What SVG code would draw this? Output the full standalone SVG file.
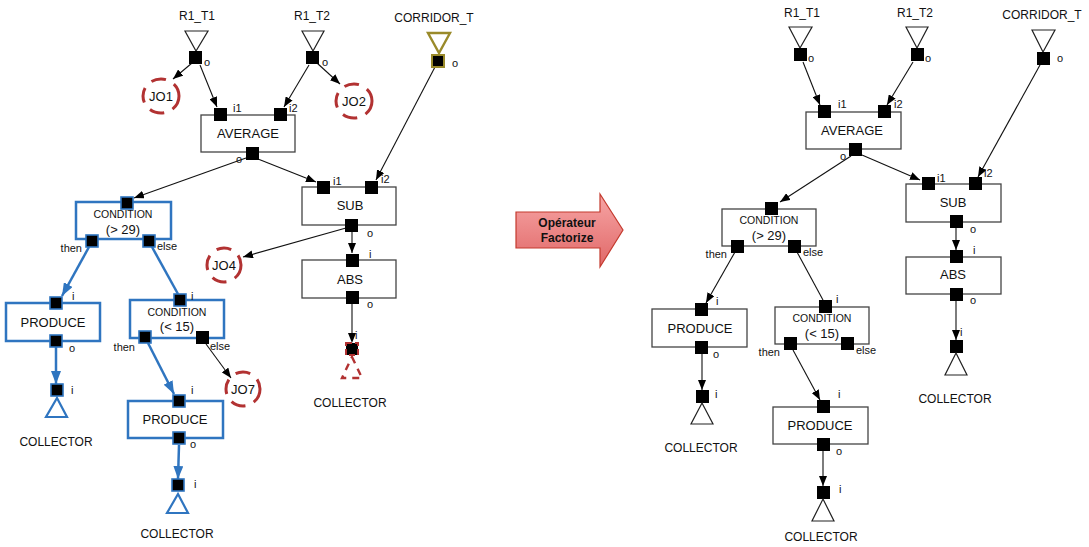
<svg xmlns="http://www.w3.org/2000/svg" width="1089" height="547" viewBox="0 0 1089 547">
<defs>
<style>
text{font-family:"Liberation Sans",Arial,sans-serif;fill:#111;}
.lbl{font-size:12px;text-anchor:middle;}
.box{fill:#fff;stroke:#444;stroke-width:1.3;}
.bbox{fill:#fff;stroke:#2f75c0;stroke-width:2.5;}
.port{fill:#000;}
.bport{fill:#000;stroke:#2f75c0;stroke-width:1.6;}
.pl{font-size:11px;}
.tri{fill:#fff;stroke:#222;stroke-width:1.2;}
.btri{fill:#fff;stroke:#2f75c0;stroke-width:2.2;}
.name{font-size:13px;text-anchor:middle;}
.cond{font-size:10.5px;text-anchor:middle;}
.jo{fill:none;stroke:#b23232;stroke-width:3;stroke-dasharray:15 9;}
.jot{font-size:13px;text-anchor:middle;}
.c{stroke:#111;stroke-width:1.1;fill:none;marker-end:url(#ah);}
.cb{stroke:#2f75c0;stroke-width:2.5;fill:none;marker-end:url(#ahb);}
.cbn{stroke:#2f75c0;stroke-width:2.5;fill:none;}
.cn{stroke:#111;stroke-width:1.1;fill:none;}
</style>
<marker id="ah" markerWidth="10" markerHeight="8" refX="10" refY="4" orient="auto" markerUnits="userSpaceOnUse"><path d="M0,0 L10,4 L0,8 z" fill="#000"/></marker>
<marker id="ahb" markerWidth="13" markerHeight="10" refX="13" refY="5" orient="auto" markerUnits="userSpaceOnUse"><path d="M0,0 L13,5 L0,10 z" fill="#2f75c0"/></marker>
<linearGradient id="rg" x1="0" y1="0" x2="0" y2="1"><stop offset="0" stop-color="#f7a5a5"/><stop offset="1" stop-color="#e06868"/></linearGradient>
</defs>

<!-- ================= LEFT ================= -->
<g id="connectors-left">
<line class="c" x1="192" y1="63" x2="173" y2="79"/>
<line class="c" x1="200" y1="65" x2="217" y2="107"/>
<line class="c" x1="309" y1="65" x2="284" y2="107"/>
<line class="c" x1="317" y1="63" x2="340" y2="84"/>
<line class="c" x1="435" y1="67" x2="376" y2="180"/>
<line class="c" x1="258" y1="159" x2="316" y2="182"/>
<line class="c" x1="246" y1="158" x2="134" y2="198"/>
<line class="c" x1="346" y1="228" x2="243" y2="257"/>
<line class="c" x1="352" y1="232" x2="352" y2="253"/>
<line class="cn" x1="352" y1="304" x2="352" y2="335"/>
<path d="M348,333 L352,343 L356,333 z" fill="#000"/>
<line class="cb" x1="89" y1="247" x2="62" y2="296"/>
<line class="cbn" x1="152" y1="247" x2="178" y2="294"/>
<line class="cb" x1="56" y1="347" x2="56" y2="384"/>
<line class="cb" x1="148" y1="343" x2="174" y2="394"/>
<line class="c" x1="206" y1="344" x2="231" y2="378"/>
<line class="cb" x1="179" y1="445" x2="178" y2="479"/>
</g>

<g id="r1t1-left">
<text class="lbl" x="197" y="20">R1_T1</text>
<polygon class="tri" points="185,31 208,31 196,51"/>
<rect class="port" x="189" y="51" width="13" height="13"/>
<text class="pl" x="204" y="66">o</text>
</g>
<g id="r1t2-left">
<text class="lbl" x="312" y="20">R1_T2</text>
<polygon class="tri" points="302,31 324,31 313,51"/>
<rect class="port" x="306" y="51" width="13" height="13"/>
<text class="pl" x="322" y="66">o</text>
</g>
<g id="corridor-left">
<text class="lbl" x="434" y="22">CORRIDOR_T</text>
<polygon points="428,33 450,33 439,53" fill="#fff" stroke="#9a8a2a" stroke-width="2.4"/>
<rect x="432" y="55" width="12" height="12" fill="#000" stroke="#9a8a2a" stroke-width="2"/>
<text class="pl" x="452" y="67">o</text>
</g>
<g id="jo1"><ellipse class="jo" cx="161" cy="96" rx="18" ry="17"/><text class="jot" x="161" y="101">JO1</text></g>
<g id="jo2"><ellipse class="jo" cx="354" cy="101" rx="18" ry="17"/><text class="jot" x="354" y="106">JO2</text></g>
<g id="jo4"><ellipse class="jo" cx="224" cy="265" rx="17" ry="17"/><text class="jot" x="224" y="270">JO4</text></g>
<g id="jo7"><ellipse class="jo" cx="243" cy="389" rx="17" ry="17"/><text class="jot" x="243" y="394">JO7</text></g>

<g id="average-left">
<rect class="box" x="201" y="115" width="94" height="37"/>
<text class="name" x="248" y="138">AVERAGE</text>
<rect class="port" x="214" y="108" width="13" height="13"/>
<rect class="port" x="274" y="108" width="13" height="13"/>
<rect class="port" x="246" y="147" width="13" height="13"/>
<text class="pl" x="233" y="112">i1</text>
<text class="pl" x="289" y="112">i2</text>
<text class="pl" x="236" y="163">o</text>
</g>
<g id="sub-left">
<rect class="box" x="302" y="187" width="94" height="38"/>
<text class="name" x="350" y="210">SUB</text>
<rect class="port" x="317" y="181" width="13" height="13"/>
<rect class="port" x="365" y="181" width="13" height="13"/>
<rect class="port" x="345" y="219" width="13" height="13"/>
<text class="pl" x="333" y="185">i1</text>
<text class="pl" x="381" y="183">i2</text>
<text class="pl" x="367" y="237">o</text>
</g>
<g id="abs-left">
<rect class="box" x="302" y="260" width="94" height="38"/>
<text class="name" x="350" y="284">ABS</text>
<rect class="port" x="346" y="254" width="13" height="13"/>
<rect class="port" x="346" y="291" width="13" height="13"/>
<text class="pl" x="369" y="258">i</text>
<text class="pl" x="367" y="308">o</text>
</g>
<g id="collector-abs-left">
<rect x="346" y="343" width="12" height="12" fill="#000" stroke="#b23232" stroke-width="2" stroke-dasharray="6 3"/>
<polygon points="352,357 362,378 342,378" fill="none" stroke="#b23232" stroke-width="2.4" stroke-dasharray="7 6"/>
<text class="pl" x="355" y="339">i</text>
<text class="lbl" x="350" y="407">COLLECTOR</text>
</g>
<g id="cond1-left">
<rect class="bbox" x="76" y="202" width="95" height="37"/>
<text class="cond" x="123" y="218">CONDITION</text>
<text class="name" x="123" y="234">(&gt; 29)</text>
<rect class="bport" x="121" y="197" width="12" height="12"/>
<rect class="bport" x="86" y="235" width="12" height="12"/>
<rect class="bport" x="143" y="235" width="12" height="12"/>
<text class="pl" x="82" y="252" text-anchor="end">then</text>
<text class="pl" x="157" y="250">else</text>
</g>
<g id="produce1-left">
<rect class="bbox" x="6" y="303" width="94" height="38"/>
<text class="name" x="53" y="327">PRODUCE</text>
<rect class="bport" x="50" y="297" width="12" height="12"/>
<rect class="bport" x="50" y="335" width="12" height="12"/>
<text class="pl" x="72" y="300">i</text>
<text class="pl" x="69" y="352">o</text>
</g>
<g id="collector1-left">
<rect class="bport" x="51" y="384" width="12" height="12"/>
<polygon class="btri" points="57,398 67,417 46,417"/>
<text class="pl" x="71" y="394">i</text>
<text class="lbl" x="56" y="446">COLLECTOR</text>
</g>
<g id="cond2-left">
<rect class="bbox" x="130" y="300" width="94" height="38"/>
<text class="cond" x="177" y="316">CONDITION</text>
<text class="name" x="177" y="331">(&lt; 15)</text>
<rect class="bport" x="174" y="294" width="12" height="12"/>
<rect class="bport" x="139" y="331" width="12" height="12"/>
<rect class="port" x="196" y="331" width="13" height="13"/>
<text class="pl" x="135" y="351" text-anchor="end">then</text>
<text class="pl" x="210" y="350">else</text>
<text class="pl" x="191" y="300">i</text>
</g>
<g id="produce2-left">
<rect class="bbox" x="128" y="401" width="95" height="37"/>
<text class="name" x="175" y="424">PRODUCE</text>
<rect class="bport" x="173" y="395" width="12" height="12"/>
<rect class="bport" x="173" y="432" width="12" height="12"/>
<text class="pl" x="191" y="394">i</text>
<text class="pl" x="190" y="448">o</text>
</g>
<g id="collector2-left">
<rect class="bport" x="172" y="479" width="12" height="12"/>
<polygon class="btri" points="178,494 188,513 167,513"/>
<text class="pl" x="194" y="488">i</text>
<text class="lbl" x="177" y="538">COLLECTOR</text>
</g>

<!-- ================= ARROW ================= -->
<g id="operator-arrow">
<path d="M516,212 L600,212 L600,194 L623,230 L600,267 L600,248 L516,248 Z" fill="url(#rg)" stroke="#c43a2e" stroke-width="1.2"/>
<text x="567" y="227" font-size="12" font-weight="bold" text-anchor="middle">Opérateur</text>
<text x="567" y="242" font-size="12" font-weight="bold" text-anchor="middle">Factorize</text>
</g>

<!-- ================= RIGHT ================= -->
<g id="connectors-right">
<line class="c" x1="803" y1="62" x2="820" y2="105"/>
<line class="c" x1="913" y1="62" x2="887" y2="105"/>
<line class="c" x1="1040" y1="65" x2="978" y2="177"/>
<line class="c" x1="862" y1="155" x2="920" y2="180"/>
<line class="c" x1="851" y1="156" x2="780" y2="202"/>
<line class="c" x1="735" y1="252" x2="706" y2="303"/>
<line class="cn" x1="797" y1="252" x2="823" y2="300"/>
<line class="c" x1="702" y1="353" x2="702" y2="390"/>
<line class="c" x1="793" y1="350" x2="820" y2="400"/>
<line class="c" x1="823" y1="451" x2="823" y2="486"/>
<line class="c" x1="956" y1="228" x2="956" y2="250"/>
<line class="c" x1="956" y1="301" x2="956" y2="340"/>
</g>

<g id="r1t1-right">
<text class="lbl" x="802" y="17">R1_T1</text>
<polygon class="tri" points="789,27 812,27 800,48"/>
<rect class="port" x="794" y="48" width="13" height="13"/>
<text class="pl" x="808" y="62">o</text>
</g>
<g id="r1t2-right">
<text class="lbl" x="915" y="17">R1_T2</text>
<polygon class="tri" points="906,27 928,27 917,48"/>
<rect class="port" x="911" y="48" width="13" height="13"/>
<text class="pl" x="925" y="62">o</text>
</g>
<g id="corridor-right">
<text class="lbl" x="1042" y="19">CORRIDOR_T</text>
<polygon class="tri" points="1032,30 1055,30 1043,52"/>
<rect class="port" x="1037" y="52" width="13" height="13"/>
<text class="pl" x="1057" y="62">o</text>
</g>
<g id="average-right">
<rect class="box" x="806" y="112" width="95" height="37"/>
<text class="name" x="852" y="135">AVERAGE</text>
<rect class="port" x="818" y="105" width="13" height="13"/>
<rect class="port" x="878" y="105" width="13" height="13"/>
<rect class="port" x="849" y="143" width="13" height="13"/>
<text class="pl" x="838" y="108">i1</text>
<text class="pl" x="894" y="108">i2</text>
<text class="pl" x="840" y="160">o</text>
</g>
<g id="sub-right">
<rect class="box" x="906" y="184" width="95" height="38"/>
<text class="name" x="953" y="207">SUB</text>
<rect class="port" x="922" y="177" width="13" height="13"/>
<rect class="port" x="969" y="177" width="13" height="13"/>
<rect class="port" x="950" y="215" width="13" height="13"/>
<text class="pl" x="937" y="182">i1</text>
<text class="pl" x="984" y="177">i2</text>
<text class="pl" x="970" y="233">o</text>
</g>
<g id="abs-right">
<rect class="box" x="906" y="257" width="95" height="37"/>
<text class="name" x="953" y="279">ABS</text>
<rect class="port" x="950" y="250" width="13" height="13"/>
<rect class="port" x="950" y="288" width="13" height="13"/>
<text class="pl" x="973" y="254">i</text>
<text class="pl" x="970" y="304">o</text>
</g>
<g id="collector-abs-right">
<rect class="port" x="950" y="340" width="13" height="13"/>
<polygon class="tri" points="956,353 967,375 945,375"/>
<text class="pl" x="960" y="336">i</text>
<text class="lbl" x="955" y="403">COLLECTOR</text>
</g>
<g id="cond1-right">
<rect class="box" x="722" y="209" width="94" height="37"/>
<text class="cond" x="769" y="224">CONDITION</text>
<text class="name" x="769" y="240">(&gt; 29)</text>
<rect class="port" x="765" y="202" width="13" height="13"/>
<rect class="port" x="731" y="240" width="13" height="13"/>
<rect class="port" x="788" y="240" width="13" height="13"/>
<text class="pl" x="727" y="258" text-anchor="end">then</text>
<text class="pl" x="803" y="256">else</text>
</g>
<g id="produce1-right">
<rect class="box" x="652" y="309" width="95" height="38"/>
<text class="name" x="700" y="333">PRODUCE</text>
<rect class="port" x="695" y="303" width="13" height="13"/>
<rect class="port" x="695" y="341" width="13" height="13"/>
<text class="pl" x="716" y="305">i</text>
<text class="pl" x="713" y="358">o</text>
</g>
<g id="collector1-right">
<rect class="port" x="696" y="390" width="13" height="13"/>
<polygon class="tri" points="702,403 713,424 691,424"/>
<text class="pl" x="715" y="398">i</text>
<text class="lbl" x="701" y="452">COLLECTOR</text>
</g>
<g id="cond2-right">
<rect class="box" x="775" y="307" width="94" height="37"/>
<text class="cond" x="822" y="322">CONDITION</text>
<text class="name" x="822" y="338">(&lt; 15)</text>
<rect class="port" x="819" y="300" width="13" height="13"/>
<rect class="port" x="784" y="337" width="13" height="13"/>
<rect class="port" x="841" y="337" width="13" height="13"/>
<text class="pl" x="780" y="356" text-anchor="end">then</text>
<text class="pl" x="856" y="354">else</text>
<text class="pl" x="836" y="303">i</text>
</g>
<g id="produce2-right">
<rect class="box" x="773" y="407" width="95" height="37"/>
<text class="name" x="820" y="430">PRODUCE</text>
<rect class="port" x="817" y="400" width="13" height="13"/>
<rect class="port" x="817" y="438" width="13" height="13"/>
<text class="pl" x="838" y="398">i</text>
<text class="pl" x="836" y="455">o</text>
</g>
<g id="collector2-right">
<rect class="port" x="817" y="486" width="13" height="13"/>
<polygon class="tri" points="823,499 834,521 812,521"/>
<text class="pl" x="839" y="493">i</text>
<text class="lbl" x="821" y="541">COLLECTOR</text>
</g>
</svg>
